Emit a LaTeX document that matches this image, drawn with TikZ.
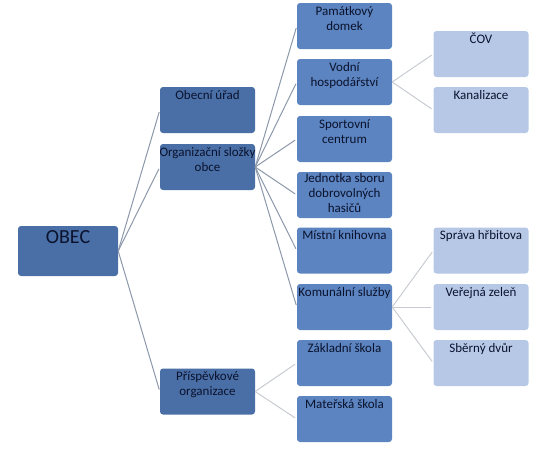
\documentclass[tikz,border=0pt]{standalone}
\usepackage{fontspec}
\setmainfont{Carlito}
\definecolor{bluea}{RGB}{74,111,166}
\definecolor{blueb}{RGB}{92,132,192}
\definecolor{bluec}{RGB}{182,200,230}
\definecolor{txtc}{RGB}{10,18,45}
\definecolor{linea}{RGB}{140,152,170}
\definecolor{lineb}{RGB}{200,204,210}

\begin{document}
\begin{tikzpicture}[x=1pt,y=-1pt]
\def\boxtext#1#2#3{\vbox to #1{\vskip #2\hbox to 0pt{\hss\begin{tabular}{@{}c@{}}#3\end{tabular}\hss}\vss}}
\tikzstyle{box}=[rounded corners=3pt,inner sep=0pt,minimum width=95pt,minimum height=46pt,text=txtc,font=\fontsize{13}{15}\selectfont];
\tikzstyle{lv1}=[box,fill=bluea];
\tikzstyle{lv2}=[box,fill=blueb];
\tikzstyle{lv3}=[box,fill=bluec];
\tikzstyle{con}=[draw=linea,line width=1pt,shorten >=2pt];
\tikzstyle{conl}=[draw=lineb,line width=1pt,shorten >=2pt];

\useasboundingbox (0,0) rectangle (536,448);

\node [lv1,minimum width=100pt,font=\fontsize{20}{24}\selectfont] (obec) at (68,251) {\boxtext{50pt}{1pt}{OBEC}};

\node [lv1] (urad) at (207.5,110) {\boxtext{46pt}{1.5pt}{Obecní úřad}};
\node [lv1] (slozky) at (207.5,167) {\boxtext{46pt}{1.5pt}{Organizační složky\\obce}};
\node [lv1] (prisp) at (207.5,391.5) {\boxtext{46pt}{1.5pt}{Příspěvkové\\organizace}};
\draw [con] (obec.east) -- (urad.west);
\draw [con] (obec.east) -- (slozky.west);
\draw [con] (obec.east) -- (prisp.west);

%%

\node [lv2] (pam) at (344.5,26) {\boxtext{46pt}{1.5pt}{Památkový\\domek}};
\node [lv2] (vodni) at (344.5,82) {\boxtext{46pt}{1.5pt}{Vodní\\hospodářství}};
\node [lv2] (sport) at (344.5,139) {\boxtext{46pt}{1.5pt}{Sportovní\\centrum}};
\node [lv2] (jsdh) at (344.5,195) {\boxtext{46pt}{0pt}{Jednotka sboru\\dobrovolných\\hasičů}};
\node [lv2] (knih) at (344.5,250.5) {\boxtext{46pt}{1.5pt}{Místní knihovna}};
\node [lv2] (kom) at (344.5,307) {\boxtext{46pt}{1.5pt}{Komunální služby}};
\draw [con] (slozky.east) -- (pam.west);
\draw [con] (slozky.east) -- (vodni.west);
\draw [con] (slozky.east) -- (sport.west);
\draw [con] (slozky.east) -- (jsdh.west);
\draw [con] (slozky.east) -- (knih.west);
\draw [con] (slozky.east) -- (kom.west);

\node [lv2] (zs) at (344.5,363) {\boxtext{46pt}{1.5pt}{Základní škola}};
\node [lv2] (ms) at (344.5,419) {\boxtext{46pt}{1.5pt}{Mateřská škola}};
\draw [conl] (prisp.east) -- (zs.west);
\draw [conl] (prisp.east) -- (ms.west);

%%

\node [lv3] (cov) at (481,54) {\boxtext{46pt}{1.5pt}{ČOV}};
\node [lv3] (kanal) at (481,110) {\boxtext{46pt}{1.5pt}{Kanalizace}};
\draw [conl] (vodni.east) -- (cov.west);
\draw [conl] (vodni.east) -- (kanal.west);

\node [lv3] (hrbit) at (481,250.5) {\boxtext{46pt}{1.5pt}{Správa hřbitova}};
\node [lv3] (zelen) at (481,307) {\boxtext{46pt}{1.5pt}{Veřejná zeleň}};
\node [lv3] (dvur) at (481,363) {\boxtext{46pt}{1.5pt}{Sběrný dvůr}};
\draw [conl] (kom.east) -- (hrbit.west);
\draw [conl] (kom.east) -- (zelen.west);
\draw [conl] (kom.east) -- (dvur.west);
\end{tikzpicture}
\end{document}
